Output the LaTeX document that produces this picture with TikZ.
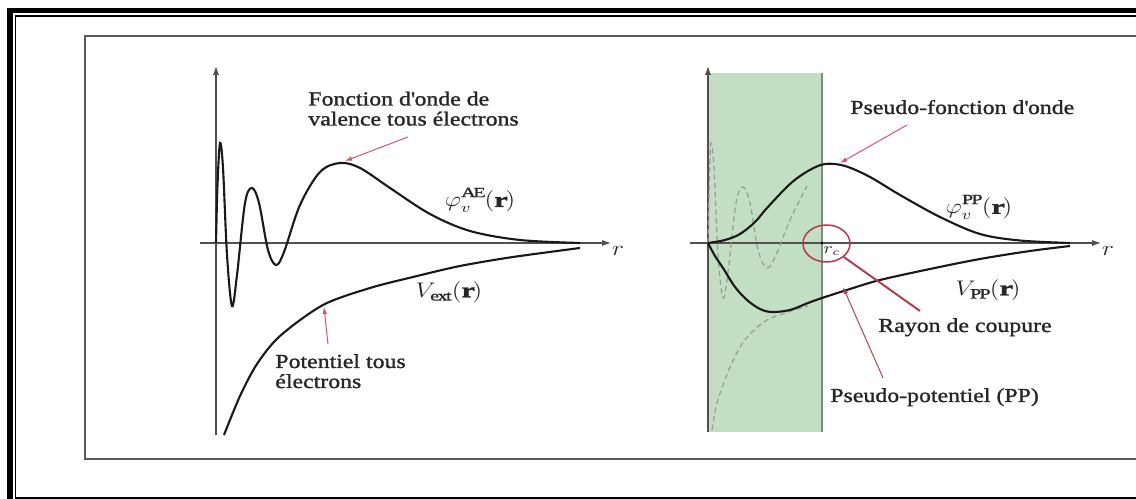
\documentclass[tikz,border=0pt]{standalone}
\usepackage{fontspec}
\setmainfont{Liberation Serif}[FakeStretch=1.2,FakeBold=1.3]
\usetikzlibrary{arrows.meta,shapes.geometric}
\definecolor{axisgray}{HTML}{505050}
\definecolor{pinkred}{HTML}{D9506A}
\definecolor{darkred}{HTML}{B8384E}
\definecolor{zonegreen}{HTML}{C3DFC3}
\definecolor{zoneedge}{HTML}{7A927A}
\definecolor{dashgray}{HTML}{9A9A9A}
\definecolor{txt}{HTML}{262626}
\newcommand\stretchx[1]{\scalebox{1.2}[1]{#1}}
\newcommand\supup[1]{\raisebox{1.2pt}{$\scriptstyle\mathrm{#1}$}}
\begin{document}
\begin{tikzpicture}[x=0.02cm,y=-0.02cm,
 axis/.style={draw=axisgray,line width=0.6pt,-{Latex[length=5pt,width=3.4pt]}},
 curve/.style={line width=1.2pt,black!90},
 ghost/.style={dashgray,line width=0.7pt,dash pattern=on 3pt off 2pt},
 lbl/.style={inner sep=0pt,text=txt,font=\fontsize{11.3}{11.4}\selectfont,align=left},
 mlbl/.style={inner sep=0pt,text=txt,font=\fontsize{12}{14}\selectfont},
 pointer/.style={draw=pinkred,line width=0.55pt,-{Latex[length=4pt,width=2.6pt]}}]
\useasboundingbox (0,0) rectangle (1136,499);
% page frame
\draw[line width=3.4pt] (10,499) -- (10,10.5) -- (1136,10.5);
\draw[line width=1pt] (15.5,497) -- (15.5,16.3) -- (1136,16.3);
\draw[line width=1.7pt] (15,498) -- (1136,498);
% figure frame
\draw[line width=1.1pt,draw=black!65] (1136,36) -- (85,36) -- (85,459) -- (1136,459);

% ================= left panel =================
\coordinate (Lo) at (216,243);
\coordinate (Lyb) at (216,435);
\coordinate (Lyt) at (216,66);
\coordinate (Lxl) at (200,243);
\coordinate (Lxr) at (611,243);
\draw[axis] (Lyb) -- (Lyt);
\draw[axis] (Lxl) -- (Lxr);
\node[mlbl] (rL) at (618,251) {\stretchx{$r$}};

\draw[curve] plot[smooth,tension=0.55] coordinates {(216,243) (217.5,185) (220,143) (223,168) (227,255) (232,306) (237,275) (245,203) (252,188) (259,203) (268,250) (276,265) (284,252) (300,205) (320,172) (340,163) (360,168) (390,188) (430,214) (470,231) (520,240) (580,243)};
\draw[curve] plot[smooth,tension=0.5] coordinates {(224,435) (240,396) (257,364) (280,336) (323,305) (370,288) (413,277) (460,266) (513,257) (580,248)};

\coordinate (AEpeak) at (345,161);
\coordinate (Vpt) at (324,307);
\node[lbl,anchor=base west] (fonc) at (308,125.5) {Fonction d\textquotesingle onde de\\valence tous électrons};
\node[lbl,anchor=base west] (pot) at (275,388) {Potentiel tous\\électrons};
\coordinate (fonctail) at (408,137);
\coordinate (pottail) at (328,344);
\draw[pointer] (fonctail) -- (AEpeak);
\draw[pointer] (pottail) -- (Vpt);

\node[mlbl] (phiAE) at (480,200) {\stretchx{$\varphi_v^{\supup{AE}}(\mathbf{r})$}};
\node[mlbl] (Vext) at (449,292) {\stretchx{$V_{\mathrm{ext}}(\mathbf{r})$}};

% ================= right panel =================
\fill[zonegreen] (708,73) rectangle (822,432);
\draw[zoneedge,line width=0.6pt] (822,73) -- (822,432);

\coordinate (Ro) at (708,243);
\coordinate (Ryb) at (708,432);
\coordinate (Ryt) at (708,66);
\coordinate (Rxl) at (690,243);
\coordinate (Rxr) at (1101,243);
\draw[axis] (Ryb) -- (Ryt);
\draw[axis] (Rxl) -- (Rxr);
\node[mlbl] (rR) at (1108,251) {\stretchx{$r$}};

% all-electron curves inside the core (dashed)
\draw[ghost] plot[smooth,tension=0.55] coordinates {(708,243) (709.5,175) (711,143) (714,168) (718,255) (723,298) (728,272) (736,203) (743,187) (750,203) (758,250) (767,268) (776,255) (790,220) (807,186)};
\draw[ghost] plot[smooth,tension=0.5] coordinates {(712,430) (717,403) (728,372) (740,347) (752,332) (767,320) (785,313) (808,306)};

% pseudo curves
\draw[curve] plot[smooth,tension=0.55] coordinates {(708,243) (725,240) (740,234) (755,222) (767,208) (790,184) (808,171) (825,164) (845,166) (870,177) (900,195) (940,217) (980,234) (1020,240.5) (1070,243)};
\draw[curve] plot[smooth,tension=0.55] coordinates {(708,243) (715,256) (723,268) (735,287) (747,300) (760,309) (772,312) (790,310) (808,303) (822,298) (850,289) (880,280) (930,269) (980,259) (1030,251) (1070,246)};

% cut-off radius
\fill (822,243) circle[radius=1.6];
\node[mlbl,font=\fontsize{9}{10}\selectfont] (rc) at (832,251) {\stretchx{$r_c$}};
\node[ellipse,draw=darkred,line width=0.85pt,minimum width=0.94cm,minimum height=0.74cm,inner sep=0pt] (cut) at (826.5,243.5) {};

\coordinate (PPpeak) at (840,163);
\coordinate (VPPpt) at (843,287);
\node[lbl,anchor=base west] (pfo) at (850,114) {Pseudo-fonction d\textquotesingle onde};
\node[lbl,anchor=base west] (ray) at (878,332) {Rayon de coupure};
\node[lbl,anchor=base west] (ppot) at (830,402) {Pseudo-potentiel (PP)};
\coordinate (pfotail) at (907,125);
\coordinate (raytip) at (920,311);
\coordinate (ppottail) at (883,378);
\draw[pointer] (pfotail) -- (PPpeak);
\draw[pointer,draw=pinkred!80!black] (ppottail) -- (VPPpt);
\draw[darkred,line width=1.1pt] (cut.-38) -- (raytip);

\node[mlbl] (phiPP) at (979,207) {\stretchx{$\varphi_v^{\supup{PP}}(\mathbf{r})$}};
\node[mlbl] (VPP) at (988,290) {\stretchx{$V_{\mathrm{PP}}(\mathbf{r})$}};
\end{tikzpicture}
\end{document}
